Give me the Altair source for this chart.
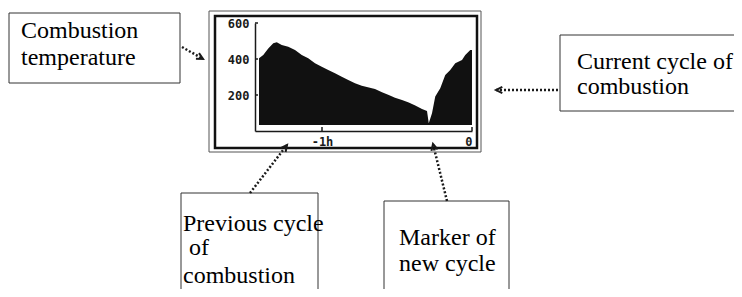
import altair as alt
import pandas as pd

# ---- data ----
minutes = [-85.2, -83.5, -81.5, -79.5, -78.1, -76.1, -73.5, -70.8, -68.1, -65.5,
           -62.8, -60.1, -57.5, -54.8, -52.1, -49.5, -46.8, -44.1, -38.8, -36.0,
           -33.3, -30.8, -28.0, -25.3, -22.7, -20.0, -18.0, -17.3, -16.0, -14.7,
           -12.7, -10.7, -8.7, -6.7, -4.0, -2.7, -0.7, 0.0]
temps = [404, 422, 459, 487, 493, 478, 468, 450, 422, 404,
         376, 357, 339, 321, 302, 283, 265, 252, 233, 215,
         200, 185, 172, 159, 141, 122, 111, 43, 98, 191,
         237, 311, 339, 376, 394, 422, 450, 450]
baseline_temp = 33
y_ticks = [200, 400, 600]
x_ticks = [-60, 0]
x_tick_labels = ["-1h", "0"]

# annotation texts
ann_temperature = ["Combustion", "temperature"]
ann_current = ["Current cycle of", "combustion"]
ann_previous = ["Previous cycle", "of", "combustion"]
ann_marker = ["Marker of", "new cycle"]

df = pd.DataFrame({"t": minutes, "temp": temps})
ytick_df = pd.DataFrame({"v": y_ticks})
xtick_df = pd.DataFrame({"t": x_ticks})

one = alt.Data(values=[{}])
INK = "#1a1a1a"
SERIF = "Liberation Serif"

xscale = alt.Scale(domain=[-86.8, 0], nice=False, zero=False)
yscale = alt.Scale(domain=[0, 600], nice=False)

lbl_expr = "datum.value == 0 ? '%s' : '%s'" % (x_tick_labels[1], x_tick_labels[0])

area = alt.Chart(df).mark_area(color="#111111", interpolate="linear").encode(
    x=alt.X("t:Q", scale=xscale,
            axis=alt.Axis(values=x_ticks, labelExpr=lbl_expr, title=None, grid=False,
                          tickSize=0, labelPadding=5, labelFlush=True,
                          labelFont="DejaVu Sans Mono", labelFontWeight="bold",
                          labelFontSize=12, labelColor=INK, domainColor=INK,
                          domainWidth=1.5)),
    y=alt.Y("temp:Q", scale=yscale,
            axis=alt.Axis(values=y_ticks, title=None, grid=False, tickSize=0,
                          labelPadding=6, labelFont="DejaVu Sans Mono",
                          labelFontWeight="bold", labelFontSize=12,
                          labelColor=INK, domainColor=INK, domainWidth=1.5)),
    y2=alt.datum(baseline_temp),
)

ytick_marks = alt.Chart(ytick_df).mark_rule(color=INK, strokeWidth=1.5).encode(
    y=alt.Y("v:Q", scale=yscale), x=alt.value(0), x2=alt.value(3))
xtick_marks = alt.Chart(xtick_df).mark_rule(color=INK, strokeWidth=1.5).encode(
    x=alt.X("t:Q", scale=xscale), y=alt.value(108), y2=alt.value(104))


def box(x1, y1, x2, y2, color="#333333", width=1.0):
    return alt.Chart(one).mark_rect(fillOpacity=0, stroke=color, strokeWidth=width).encode(
        x=alt.value(x1), x2=alt.value(x2), y=alt.value(y1), y2=alt.value(y2))


def label(t, x, y):
    return alt.Chart(one).mark_text(text=t, font=SERIF, fontSize=24, align="left",
                                    baseline="alphabetic", color="black").encode(
        x=alt.value(x), y=alt.value(y))


def arrow(x1, y1, x2, y2, angle):
    r = alt.Chart(one).mark_rule(strokeDash=[2, 2], strokeWidth=2.5, color=INK).encode(
        x=alt.value(x1), y=alt.value(y1), x2=alt.value(x2), y2=alt.value(y2))
    h = alt.Chart(one).mark_point(shape="M -2 -1 L 0 0 L -2 1", filled=False, size=40,
                                  strokeWidth=2, angle=angle, color=INK, opacity=1).encode(
        x=alt.value(x2), y=alt.value(y2))
    return [r, h]


layers = [
    box(-46, -12, 226, 129, color="#555555", width=1),
    box(-40, -7, 222, 125, color="#111111", width=2.5),
    area, ytick_marks, xtick_marks,
    box(-246, -10, -75, 60),
    box(305, 12, 500, 88),
    box(-74, 170, 63, 300),
    box(129, 178, 254, 300),
]
layers += [label(t, -234, 15 + i * 27) for i, t in enumerate(ann_temperature)]
layers += [label(t, 322, 46 + i * 25) for i, t in enumerate(ann_current)]
layers += [label(t, xx, yy) for t, xx, yy in zip(ann_previous, [-72, -66, -72], [208, 232, 260])]
layers += [label(t, 144, 222 + i * 26) for i, t in enumerate(ann_marker)]
layers += arrow(-73, 24, -52, 36, 29)
layers += arrow(303, 67, 241, 67, 180)
layers += arrow(-5, 170, 32, 122, 308)
layers += arrow(192, 178, 178, 121, 256)

chart = alt.layer(*layers).properties(
    width=217, height=108,
    padding={"left": 247, "top": 15, "right": 262, "bottom": 158},
    autosize=alt.AutoSizeParams(type="none"),
    background="white",
).configure_view(strokeWidth=0)

chart.save("out.html", embed_options={"renderer": "svg", "actions": False})
